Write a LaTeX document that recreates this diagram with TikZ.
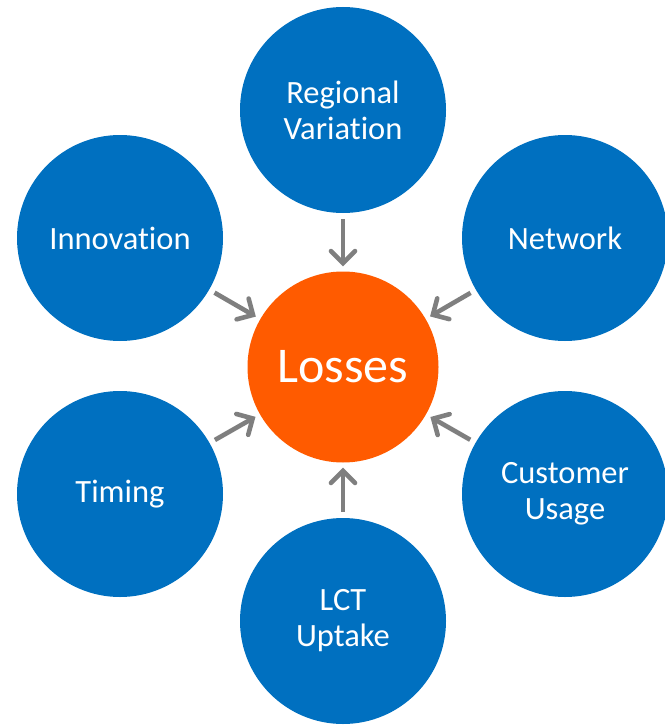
\documentclass[tikz,border=0pt]{standalone}
\usepackage{fontspec}
\setmainfont{Carlito}[RawFeature=-liga]
\usetikzlibrary{arrows.meta}
\definecolor{topicblue}{HTML}{0070C0}
\definecolor{lossorange}{HTML}{FF5B00}
\definecolor{arrowgray}{HTML}{7F7F7F}
\begin{document}
\begin{tikzpicture}[x=1pt,y=-1pt,
  topic/.style={circle, fill=topicblue, draw=none, minimum size=206pt, inner sep=0pt,
    text=white, align=center, font=\fontsize{32.5pt}{36pt}\selectfont},
  hub/.style={circle, fill=lossorange, draw=none, minimum size=191pt, inner sep=0pt,
    text=white, font=\fontsize{50pt}{56pt}\selectfont},
  feed/.style={draw=arrowgray, line width=4.6pt,
    -{Straight Barb[length=12pt, width=24pt, line cap=round]},
    shorten <=6pt, shorten >=5pt}]
  \useasboundingbox (0,0) rectangle (664,725);

  \node[hub] (loss) at (343,367) {Losses};

  \node[topic] (reg)  at (343,110) {Regional\\Variation};
  \node[topic] (inn)  at (120,238) {Innovation};
  \node[topic] (net)  at (565,238) {Network};
  \node[topic] (tim)  at (120,494) {Timing};
  \node[topic] (cus)  at (565,494) {Customer\\Usage};
  \node[topic] (lct)  at (343,621) {LCT\\Uptake};

  \foreach \n in {reg,inn,net,tim,cus,lct}
    \draw[feed] (\n) -- (loss);
\end{tikzpicture}
\end{document}
